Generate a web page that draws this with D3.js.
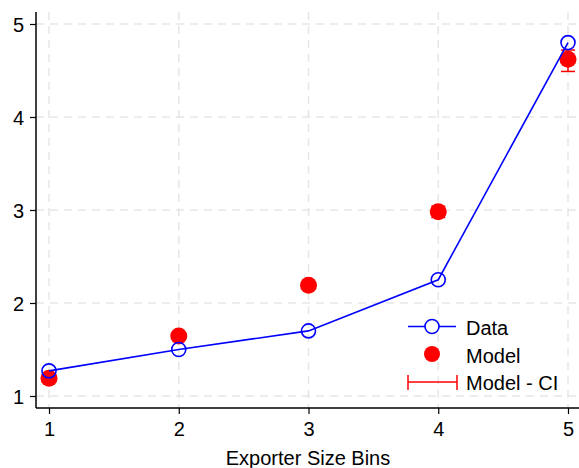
<!DOCTYPE html>
<html>
<head>
<meta charset="utf-8">
<script src="https://cdn.jsdelivr.net/npm/d3@7"></script>
<style>
  html, body { margin: 0; padding: 0; background: #fff; }
  svg { display: block; font-family: "Liberation Sans", Arial, sans-serif; }
</style>
</head>
<body>
<svg id="chart" width="579" height="468"></svg>
<script>
// Exporter size bins and the two series
const bins = [1, 2, 3, 4, 5];
const dataValues = [1.27, 1.50, 1.70, 2.25, 4.80];
const modelValues = [1.19, 1.645, 2.19, 2.98, 4.62];
const ciLow = [1.18, 1.635, 2.175, 2.92, 4.49];
const ciHigh = [1.20, 1.655, 2.205, 3.04, 4.72];
const yTicks = [1, 2, 3, 4, 5];
const xTicks = [1, 2, 3, 4, 5];

const svg = d3.select("#chart");
const W = 579, H = 468;
const plotLeft = 36, plotBottom = 408, plotTop = 12;
const fontSize = 20;

const x = d3.scaleLinear().domain([1, 5]).range([49, 568]);
const y = d3.scaleLinear().domain([1, 5]).range([396, 24]);

// grid lines
const grid = svg.append("g").attr("stroke", "#e6e6e6").attr("stroke-width", 1.5)
  .attr("stroke-dasharray", "8,6");
grid.selectAll("line.h").data(yTicks).join("line").attr("class", "h")
  .attr("x1", plotLeft).attr("x2", W).attr("y1", d => y(d)).attr("y2", d => y(d));
grid.selectAll("line.v").data(xTicks).join("line").attr("class", "v")
  .attr("y1", plotTop).attr("y2", plotBottom).attr("x1", d => x(d)).attr("x2", d => x(d));

// axes
const yAxis = svg.append("g").attr("transform", `translate(${plotLeft},0)`)
  .call(d3.axisLeft(y).tickValues(yTicks).tickFormat(d3.format("d")).tickSize(6).tickSizeOuter(0));
yAxis.select(".domain").remove();
svg.append("line").attr("x1", plotLeft).attr("x2", plotLeft).attr("y1", plotTop).attr("y2", plotBottom)
  .attr("stroke", "#000").attr("stroke-width", 1.5);

const xAxis = svg.append("g").attr("transform", `translate(0,${plotBottom})`)
  .call(d3.axisBottom(x).tickValues(xTicks).tickFormat(d3.format("d")).tickSize(6).tickSizeOuter(0));
xAxis.select(".domain").remove();
svg.append("line").attr("x1", plotLeft).attr("x2", W).attr("y1", plotBottom).attr("y2", plotBottom)
  .attr("stroke", "#000").attr("stroke-width", 1.5);

svg.selectAll(".tick line").attr("stroke", "#000").attr("stroke-width", 1.2);
svg.selectAll(".tick text").attr("font-size", fontSize).attr("fill", "#000")
  .attr("font-family", "Liberation Sans, Arial, sans-serif");
yAxis.selectAll(".tick text").attr("x", -12).attr("dy", "0.36em");
xAxis.selectAll(".tick text").attr("y", 28).attr("dy", 0);

svg.append("text").attr("x", 308).attr("y", 465).attr("text-anchor", "middle")
  .attr("font-size", fontSize).text("Exporter Size Bins");

// confidence intervals
const ci = svg.append("g").attr("stroke", "#ff0000").attr("stroke-width", 1.5);
bins.forEach((b, i) => {
  ci.append("line").attr("x1", x(b)).attr("x2", x(b)).attr("y1", y(ciLow[i])).attr("y2", y(ciHigh[i]));
  ci.append("line").attr("x1", x(b) - 7).attr("x2", x(b) + 7).attr("y1", y(ciLow[i])).attr("y2", y(ciLow[i]));
  ci.append("line").attr("x1", x(b) - 7).attr("x2", x(b) + 7).attr("y1", y(ciHigh[i])).attr("y2", y(ciHigh[i]));
});

// model points
svg.append("g").selectAll("circle").data(bins).join("circle")
  .attr("cx", d => x(d)).attr("cy", (d, i) => y(modelValues[i])).attr("r", 8.5)
  .attr("fill", "#ff0000");

// data line and hollow markers
svg.append("path").datum(bins)
  .attr("d", d3.line().x(d => x(d)).y((d, i) => y(dataValues[i])))
  .attr("fill", "none").attr("stroke", "#0000ff").attr("stroke-width", 1.6);
svg.append("g").selectAll("circle").data(bins).join("circle")
  .attr("cx", d => x(d)).attr("cy", (d, i) => y(dataValues[i])).attr("r", 7)
  .attr("fill", "none").attr("stroke", "#0000ff").attr("stroke-width", 1.6);

// legend
const lg = svg.append("g");
lg.append("line").attr("x1", 408).attr("x2", 456).attr("y1", 326.5).attr("y2", 326.5)
  .attr("stroke", "#0000ff").attr("stroke-width", 1.6);
lg.append("circle").attr("cx", 432).attr("cy", 326.5).attr("r", 7)
  .attr("fill", "#fff").attr("stroke", "#0000ff").attr("stroke-width", 1.6);
lg.append("circle").attr("cx", 432).attr("cy", 354).attr("r", 8).attr("fill", "#ff0000");
const eb = lg.append("g").attr("stroke", "#ff0000").attr("stroke-width", 1.5);
eb.append("line").attr("x1", 408).attr("x2", 457).attr("y1", 382).attr("y2", 382);
eb.append("line").attr("x1", 408).attr("x2", 408).attr("y1", 375).attr("y2", 390);
eb.append("line").attr("x1", 457).attr("x2", 457).attr("y1", 375).attr("y2", 390);
const legendLabels = ["Data", "Model", "Model - CI"];
lg.selectAll("text").data(legendLabels).join("text")
  .attr("x", 466).attr("y", (d, i) => 328 + i * 27.5).attr("dy", "0.36em")
  .attr("font-size", fontSize).text(d => d);
</script>
</body>
</html>
